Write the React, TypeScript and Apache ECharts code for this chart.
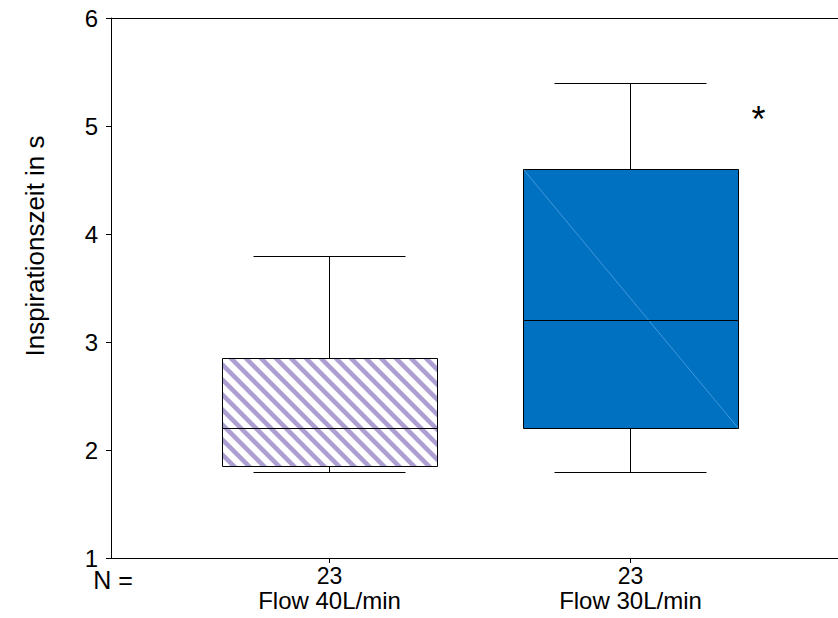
import React, { useEffect, useRef } from "react";
import * as echarts from "echarts";

// ---- data ----
const categories = ["Flow 40L/min", "Flow 30L/min"];
const counts = [23, 23];
const positions = [1, 2];
const minValues = [1.8, 1.8];
const q1Values = [1.85, 2.2];
const medianValues = [2.2, 3.2];
const q3Values = [2.85, 4.6];
const maxValues = [3.8, 5.4];
// extreme value marker (x position on the value axis, y value)
const extremeX = [2.425];
const extremeY = [5.1];
const yTickMin = 1;
const yTickMax = 6;
const yTickStep = 1;

const axisTitle = "Inspirationszeit in s";
const nLabel = "N =";

const FONT = '"Liberation Sans", Arial, Helvetica, sans-serif';

function clipX(poly: number[][], x0: number, keepGreater: boolean): number[][] {
  const out: number[][] = [];
  const inside = (p: number[]) => (keepGreater ? p[0] >= x0 : p[0] <= x0);
  for (let i = 0; i < poly.length; i++) {
    const a = poly[i];
    const b = poly[(i + 1) % poly.length];
    const ina = inside(a);
    const inb = inside(b);
    if (ina) out.push(a);
    if (ina !== inb) {
      const t = (x0 - a[0]) / (b[0] - a[0]);
      out.push([x0, a[1] + t * (b[1] - a[1])]);
    }
  }
  return out;
}

export default function App() {
  const ref = useRef<HTMLDivElement>(null);

  useEffect(() => {
    if (!ref.current) return;
    const chart = echarts.init(ref.current, undefined, { renderer: "svg" });

    const boxData = positions.map((p, i) => [
      p,
      minValues[i],
      q1Values[i],
      medianValues[i],
      q3Values[i],
      maxValues[i],
    ]);
    const extremeData = extremeX.map((x, i) => [x, extremeY[i]]);

    const px = (v: number) => Math.round(v) + 0.5;

    const renderBox = (params: any, api: any) => {
      const idx = params.dataIndex;
      const x = api.value(0);
      const c0 = api.coord([x, api.value(1)]);
      const c1 = api.coord([x, api.value(2)]);
      const c2 = api.coord([x, api.value(3)]);
      const c3 = api.coord([x, api.value(4)]);
      const c4 = api.coord([x, api.value(5)]);
      const cx = px(c0[0]);
      const boxHalf = 107.5;
      const capHalf = 76;
      const left = px(cx - boxHalf);
      const right = px(cx + boxHalf);
      const top = px(c3[1]);
      const bottom = px(c1[1]);
      const W = right - left;
      const H = bottom - top;
      const children: any[] = [];
      const black = { stroke: "#000", lineWidth: 1 };

      if (idx === 0) {
        children.push({
          type: "rect",
          shape: { x: left, y: top, width: W, height: H },
          style: { fill: "#ffffff" },
        });
        const period = 15;
        const bw = 6.5;
        for (let d = -H - bw - period; d < W + period; d += period) {
          let poly = [
            [d, 0],
            [d + bw, 0],
            [d + bw + H, H],
            [d + H, H],
          ];
          poly = clipX(poly, 0, true);
          if (poly.length < 3) continue;
          poly = clipX(poly, W, false);
          if (poly.length < 3) continue;
          children.push({
            type: "polygon",
            shape: { points: poly.map((p) => [p[0] + left, p[1] + top]) },
            style: { fill: "#ae9fd2" },
          });
        }
      } else {
        children.push({
          type: "rect",
          shape: { x: left, y: top, width: W, height: H },
          style: { fill: "#0070c0" },
        });
        children.push({
          type: "line",
          shape: { x1: left, y1: top, x2: right, y2: bottom },
          style: { stroke: "#4fa3e3", lineWidth: 0.8 },
        });
      }
      children.push({
        type: "rect",
        shape: { x: left, y: top, width: W, height: H },
        style: { fill: "none", ...black },
      });
      const med = px(c2[1]);
      children.push({
        type: "line",
        shape: { x1: left, y1: med, x2: right, y2: med },
        style: black,
      });
      const yMax = px(c4[1]);
      const yMin = px(c0[1]);
      children.push({
        type: "line",
        shape: { x1: cx, y1: top, x2: cx, y2: yMax },
        style: black,
      });
      children.push({
        type: "line",
        shape: { x1: cx - capHalf, y1: yMax, x2: cx + capHalf, y2: yMax },
        style: black,
      });
      children.push({
        type: "line",
        shape: { x1: cx, y1: bottom, x2: cx, y2: yMin },
        style: black,
      });
      children.push({
        type: "line",
        shape: { x1: cx - capHalf, y1: yMin, x2: cx + capHalf, y2: yMin },
        style: black,
      });
      return { type: "group", children };
    };

    const renderStar = (params: any, api: any) => {
      const c = api.coord([api.value(0), api.value(1)]);
      const fs = 36;
      return {
        type: "text",
        x: c[0],
        y: c[1] + 0.13 * fs,
        style: {
          text: "*",
          fontSize: fs,
          fontFamily: FONT,
          fill: "#000",
          textAlign: "center",
          textVerticalAlign: "middle",
        },
      };
    };

    const xMin = 0.2741;
    const xMax = 2.6894;

    chart.setOption({
      animation: false,
      backgroundColor: "#ffffff",
      grid: {
        left: 111,
        right: 0,
        top: 18,
        bottom: 60,
        containLabel: false,
        outerBoundsMode: "none",
      },
      xAxis: [
        {
          type: "value",
          min: xMin,
          max: xMax,
          position: "bottom",
          axisLine: { show: true, lineStyle: { color: "#000", width: 1 } },
          axisTick: {
            show: true,
            customValues: positions,
            length: 5,
            lineStyle: { color: "#000" },
          },
          axisLabel: {
            show: true,
            customValues: positions,
            margin: 7,
            formatter: (v: number) => {
              const i = positions.indexOf(Math.round(v));
              if (i < 0) return "";
              return `{n|${counts[i]}}\n{f|${categories[i]}}`;
            },
            rich: {
              n: {
                fontSize: 23,
                lineHeight: 22,
                fontFamily: FONT,
                color: "#000",
              },
              f: {
                fontSize: 24,
                lineHeight: 26,
                fontFamily: FONT,
                color: "#000",
              },
            },
          },
          splitLine: { show: false },
        },
        {
          type: "value",
          min: xMin,
          max: xMax,
          position: "top",
          axisLine: { show: true, lineStyle: { color: "#000", width: 1 } },
          axisTick: { show: false },
          axisLabel: { show: false },
          splitLine: { show: false },
        },
      ],
      yAxis: {
        type: "value",
        min: yTickMin,
        max: yTickMax,
        interval: yTickStep,
        axisLine: { show: true, lineStyle: { color: "#000", width: 1 } },
        axisTick: { show: true, length: 5, lineStyle: { color: "#000" } },
        axisLabel: {
          margin: 13,
          fontSize: 24,
          fontFamily: FONT,
          color: "#000",
        },
        splitLine: { show: false },
      },
      graphic: [
        {
          type: "text",
          x: 35,
          y: 246,
          rotation: Math.PI / 2,
          style: {
            text: axisTitle,
            fontSize: 26,
            fontFamily: FONT,
            fill: "#000",
            textAlign: "center",
            textVerticalAlign: "middle",
          },
        },
        {
          type: "text",
          x: 113,
          y: 580,
          style: {
            text: nLabel,
            fontSize: 25,
            fontFamily: FONT,
            fill: "#000",
            textAlign: "center",
            textVerticalAlign: "middle",
          },
        },
      ],
      series: [
        {
          type: "custom",
          xAxisIndex: 0,
          renderItem: renderBox,
          data: boxData,
          encode: { x: 0, y: [1, 2, 3, 4, 5] },
          clip: false,
          silent: true,
        },
        {
          type: "custom",
          xAxisIndex: 0,
          renderItem: renderStar,
          data: extremeData,
          encode: { x: 0, y: 1 },
          silent: true,
        },
      ],
    });

    return () => chart.dispose();
  }, []);

  return (
    <div
      ref={ref}
      style={{
        position: "fixed",
        left: 0,
        top: 0,
        width: 838,
        height: 618,
        background: "#fff",
      }}
    />
  );
}
